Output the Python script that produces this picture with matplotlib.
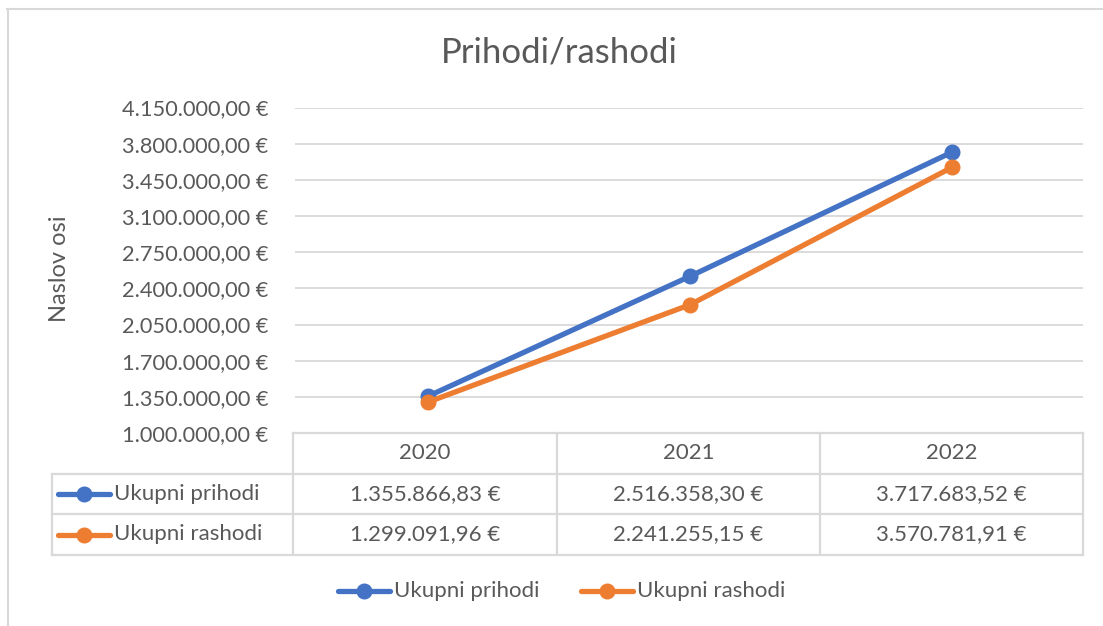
import matplotlib
matplotlib.use("Agg")
import matplotlib.pyplot as plt
from matplotlib.lines import Line2D

# ---------------- data ----------------
years = ["2020", "2021", "2022"]
prihodi = [1355866.83, 2516358.30, 3717683.52]
rashodi = [1299091.96, 2241255.15, 3570781.91]
series_names = ["Ukupni prihodi", "Ukupni rashodi"]
y_ticks = [1000000, 1350000, 1700000, 2050000, 2400000, 2750000,
           3100000, 3450000, 3800000, 4150000]
title = "Prihodi/rashodi"
y_label = "Naslov osi"

# ---------------- style ----------------
BLUE = "#4472C4"
ORANGE = "#ED7D31"
TXT = "#595959"
GRID = "#D9D9D9"
FONT = "Lato"
FS = 16

W, H = 1103, 626
fig = plt.figure(figsize=(W / 100, H / 100), dpi=100)
plt.rcParams["font.family"] = [FONT, "DejaVu Sans"]


def fx(px):
    return px / W


def fy(py):
    return 1 - py / H


def eur(v):
    s = f"{v:,.2f}".replace(",", "X").replace(".", ",").replace("X", ".")
    return s + " €"


# outer chart border (top & left visible)
fig.add_artist(Line2D([fx(7), fx(W + 5)], [fy(8.5), fy(8.5)], color=GRID, lw=1.5))
fig.add_artist(Line2D([fx(7.5), fx(7.5)], [fy(8.5), fy(H + 5)], color=GRID, lw=1.5))

L, R, T, B = 295, 1083, 107.5, 433
ax = fig.add_axes([fx(L), fy(B), fx(R) - fx(L), fy(T) - fy(B)])
x = list(range(len(years)))
ax.plot(x, prihodi, color=BLUE, lw=3.8, marker="o", markersize=10.5,
        solid_capstyle="round", zorder=3, clip_on=False)
ax.plot(x, rashodi, color=ORANGE, lw=3.8, marker="o", markersize=10.5,
        solid_capstyle="round", zorder=3, clip_on=False)
ax.set_xlim(-0.5 - 2 / 263.0, len(years) - 0.5)
ax.set_ylim(y_ticks[0], y_ticks[-1])
ax.set_yticks(y_ticks)
ax.set_yticklabels([eur(v) for v in y_ticks], fontsize=15.7, color=TXT)
ax.set_xticks([])
ax.tick_params(axis="y", length=0, pad=19)
for s in ax.spines.values():
    s.set_visible(False)
ax.grid(axis="y", color=GRID, lw=1.3)
ax.set_axisbelow(True)
ax.set_facecolor("none")

fig.text(fx(559), fy(52), title, ha="center", va="center", fontsize=25, color=TXT)
fig.text(fx(60), fy(269), y_label, ha="center", va="center", rotation=90,
         fontsize=17, color=TXT)

# ---------------- data table ----------------
rows_y = [433, 473.5, 514, 555]
col_x = [52, 293, 557, 820, 1083]
tl = dict(color=GRID, lw=1.6)
fig.add_artist(Line2D([fx(col_x[1]), fx(col_x[-1])], [fy(rows_y[0])] * 2, **tl))
for yy in rows_y[1:]:
    fig.add_artist(Line2D([fx(col_x[0]), fx(col_x[-1])], [fy(yy)] * 2, **tl))
fig.add_artist(Line2D([fx(col_x[0])] * 2, [fy(rows_y[1]), fy(rows_y[-1])], **tl))
for xx in col_x[1:]:
    fig.add_artist(Line2D([fx(xx)] * 2, [fy(rows_y[0]), fy(rows_y[-1])], **tl))

for i, yr in enumerate(years):
    cx = (col_x[i + 1] + col_x[i + 2]) / 2
    fig.text(fx(cx), fy((rows_y[0] + rows_y[1]) / 2), yr, ha="center",
             va="center", fontsize=FS, color=TXT)
    fig.text(fx(cx), fy((rows_y[1] + rows_y[2]) / 2), eur(prihodi[i]),
             ha="center", va="center", fontsize=FS, color=TXT)
    fig.text(fx(cx), fy((rows_y[2] + rows_y[3]) / 2), eur(rashodi[i]),
             ha="center", va="center", fontsize=FS, color=TXT)


def key(x0, yc, color, label):
    fig.add_artist(Line2D([fx(x0), fx(x0 + 52)], [fy(yc)] * 2, color=color,
                          lw=3.8, solid_capstyle="round"))
    fig.add_artist(Line2D([fx(x0 + 26)], [fy(yc)], color=color, marker="o",
                          markersize=10.5, lw=0))
    fig.text(fx(x0 + 56), fy(yc), label, ha="left", va="center",
             fontsize=FS, color=TXT)


key(58, (rows_y[1] + rows_y[2]) / 2, BLUE, series_names[0])
key(58, (rows_y[2] + rows_y[3]) / 2, ORANGE, series_names[1])

# ---------------- legend ----------------
key(338, 591, BLUE, series_names[0])
key(581, 591, ORANGE, series_names[1])

fig.savefig("out.png", dpi=100)
